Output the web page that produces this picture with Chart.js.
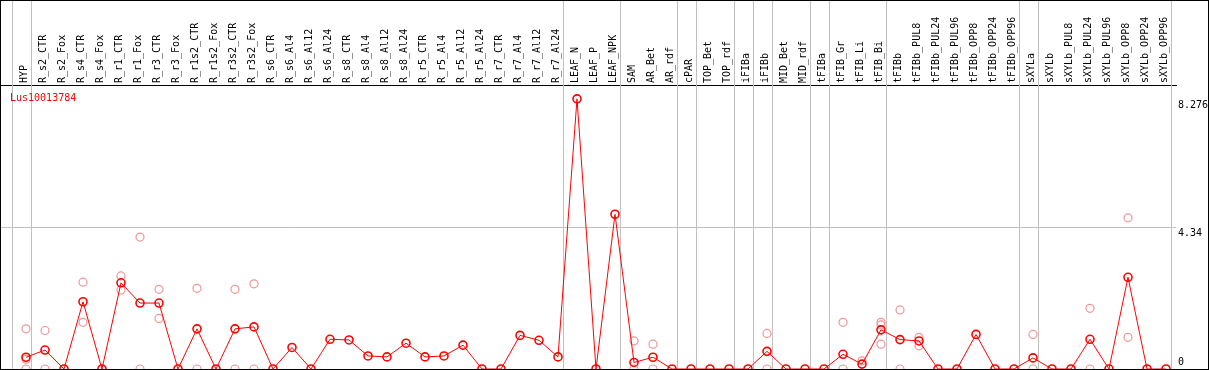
<!DOCTYPE html>
<html>
<head>
<meta charset="utf-8">
<script src="https://cdn.jsdelivr.net/npm/chart.js@4"></script>
<style>
  body { margin: 0; background: #fff; }
  #frame { width: 1207px; height: 368px; border: 1px solid #000; }
  canvas { display: block; }
</style>
</head>
<body>
<div id="frame"><canvas id="expr" width="1207" height="368"></canvas></div>
<script>
//
// Data
//

var geneName = 'Lus10013784';

var samples = [
    'HYP', 'R_s2_CTR', 'R_s2_Fox', 'R_s4_CTR', 'R_s4_Fox', 'R_r1_CTR', 'R_r1_Fox',
    'R_r3_CTR', 'R_r3_Fox', 'R_r1s2_CTR', 'R_r1s2_Fox', 'R_r3s2_CTR', 'R_r3s2_Fox',
    'R_s6_CTR', 'R_s6_Al4', 'R_s6_Al12', 'R_s6_Al24', 'R_s8_CTR', 'R_s8_Al4', 'R_s8_Al12',
    'R_s8_Al24', 'R_r5_CTR', 'R_r5_Al4', 'R_r5_Al12', 'R_r5_Al24', 'R_r7_CTR', 'R_r7_Al4',
    'R_r7_Al12', 'R_r7_Al24', 'LEAF_N', 'LEAF_P', 'LEAF_NPK', 'SAM', 'AR_Bet', 'AR_rdf',
    'cPAR', 'TOP_Bet', 'TOP_rdf', 'iFIBa', 'iFIBb', 'MID_Bet', 'MID_rdf', 'tFIBa',
    'tFIB_Gr', 'tFIB_Li', 'tFIB_Bi', 'tFIBb', 'tFIBb_PUL8', 'tFIBb_PUL24', 'tFIBb_PUL96',
    'tFIBb_OPP8', 'tFIBb_OPP24', 'tFIBb_OPP96', 'sXYLa', 'sXYLb', 'sXYLb_PUL8',
    'sXYLb_PUL24', 'sXYLb_PUL96', 'sXYLb_OPP8', 'sXYLb_OPP24', 'sXYLb_OPP96'
];

var meanValues = [
    0.36, 0.58, 0, 2.06, 0, 2.64, 2.02,
    2.02, 0, 1.23, 0, 1.23, 1.29,
    0, 0.66, 0, 0.91, 0.89, 0.40, 0.37,
    0.79, 0.37, 0.40, 0.73, 0, 0, 1.03,
    0.88, 0.37, 8.276, 0, 4.74, 0.20, 0.36, 0,
    0, 0, 0, 0, 0.54, 0, 0, 0,
    0.45, 0.15, 1.20, 0.90, 0.86, 0, 0,
    1.06, 0, 0, 0.34, 0, 0,
    0.91, 0, 2.81, 0, 0
];

// single replicates (pale circles): sample index and value
var repIndex = [0, 0, 0, 1, 1, 3, 3, 5, 5, 6, 6, 7, 7, 9, 9, 11, 11, 12, 12,
    32, 32, 33, 33, 39, 39, 43, 43, 44, 45, 45, 45, 46, 46, 47, 47, 53, 53, 56, 56, 58, 58];
var repValue = [1.23, 0.30, 0, 1.18, 0, 2.66, 1.43, 2.85, 2.42, 4.04, 0, 2.44, 1.55, 2.47, 0, 2.44, 0, 2.61, 0,
    0.86, 0, 0.76, 0, 1.09, 0, 1.43, 0, 0.25, 1.43, 1.35, 0.76, 1.81, 0, 0.97, 0.71, 1.06, 0, 1.86, 0, 4.63, 0.97];

// sample groups end after these indexes (-1 = before the first)
var groupEnds = [-1, 0, 28, 31, 34, 35, 37, 38, 39, 41, 42, 45, 52, 53, 60];

var yTicks = [0, 4.34, 8.276];

//
// Chart
//

Chart.defaults.font.family = '"DejaVu Sans Mono", monospace';
Chart.defaults.font.size = 10;
Chart.defaults.color = '#000';

var separators = {
    id: 'separators',
    beforeDatasetsDraw: function (chart) {
        var ctx = chart.ctx;
        var x = chart.scales.x;
        ctx.save();
        ctx.strokeStyle = '#c0c0c0';
        ctx.lineWidth = 1;
        groupEnds.forEach(function (g) {
            var px = Math.round(x.getPixelForValue(g + 0.25)) + 0.5;
            ctx.beginPath();
            ctx.moveTo(px, 0);
            ctx.lineTo(px, chart.chartArea.bottom);
            ctx.stroke();
        });
        ctx.restore();
    }
};

var geneLabel = {
    id: 'geneLabel',
    afterDraw: function (chart) {
        var ctx = chart.ctx;
        ctx.save();
        ctx.fillStyle = '#ff0000';
        ctx.font = '10px "DejaVu Sans Mono", monospace';
        ctx.textBaseline = 'top';
        ctx.fillText(geneName, chart.chartArea.left + 9, chart.chartArea.top + 8);
        ctx.restore();
    }
};

function noPadding(scale) {
    scale.paddingLeft = 0;
    scale.paddingRight = 0;
    scale.paddingTop = 0;
    scale.paddingBottom = 0;
}

var config = {
    data: {
        datasets: [{
            type: 'line',
            data: meanValues.map(function (v, i) { return {x: i, y: v}; }),
            borderColor: '#ff0000',
            borderWidth: 1,
            pointRadius: 4,
            pointBorderWidth: 1.6,
            pointBorderColor: '#ff0000',
            pointBackgroundColor: 'rgba(255,255,255,0)',
            tension: 0
        }, {
            type: 'scatter',
            data: repIndex.map(function (s, i) { return {x: s, y: repValue[i]}; }),
            pointRadius: 4,
            pointBorderWidth: 1.2,
            pointBorderColor: 'rgb(238,150,150)',
            pointBackgroundColor: 'rgba(255,255,255,0)'
        }]
    },
    options: {
        responsive: false,
        animation: false,
        devicePixelRatio: 1,
        layout: { padding: 0, autoPadding: false },
        plugins: {
            legend: { display: false },
            tooltip: { enabled: false }
        },
        scales: {
            x: {
                type: 'linear',
                position: 'top',
                min: -25 / 19,
                max: -25 / 19 + 1175 / 19,
                afterBuildTicks: function (scale) {
                    scale.ticks = samples.map(function (s, i) { return {value: i}; });
                },
                afterFit: function (scale) {
                    scale.height = 84;
                    noPadding(scale);
                },
                ticks: {
                    autoSkip: false,
                    minRotation: 90,
                    maxRotation: 90,
                    padding: 2,
                    labelOffset: 10,
                    callback: function (value) { return samples[value]; }
                },
                grid: { display: false, drawTicks: false },
                border: { display: true, color: '#000', width: 1 }
            },
            y: {
                type: 'linear',
                position: 'right',
                min: 0,
                max: 8.7,
                afterBuildTicks: function (scale) {
                    scale.ticks = yTicks.map(function (v) { return {value: v}; });
                },
                afterFit: function (scale) {
                    scale.width = 32;
                    noPadding(scale);
                },
                ticks: {
                    padding: 2,
                    font: { lineHeight: 1.3 },
                    callback: function (value) {
                        var s = String(value);
                        return value === 0 ? [s, ''] : ['', s];
                    }
                },
                grid: {
                    drawTicks: false,
                    color: function (c) {
                        return c.tick && c.tick.value === 4.34 ? '#c0c0c0' : 'rgba(0,0,0,0)';
                    }
                },
                border: { display: false }
            }
        }
    },
    plugins: [separators, geneLabel]
};

var ctx = document.getElementById('expr').getContext('2d');
window.exprChart = new Chart(ctx, config);
</script>
</body>
</html>
